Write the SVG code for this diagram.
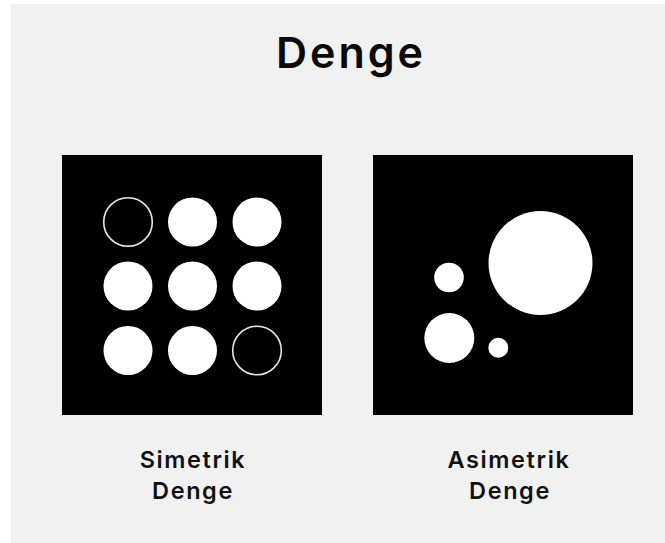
<svg xmlns="http://www.w3.org/2000/svg" width="665" height="543" viewBox="0 0 665 543">
<style>
.title{font-family:Inter,"Noto Sans",sans-serif;font-weight:600;font-size:43px;letter-spacing:3px;fill:#0a0a0a;text-anchor:middle}
.lbl{font-family:Inter,"Noto Sans",sans-serif;font-weight:600;font-size:23.5px;letter-spacing:1.6px;fill:#111;text-anchor:middle}
.panel{fill:#000}
.dot{fill:#fff}
.ring{fill:none;stroke:#e6e6e6;stroke-width:1.6}
</style>
<rect x="0" y="0" width="665" height="543" fill="#fff"/>
<rect x="11" y="4" width="654" height="539" fill="#f1f1f1"/>
<text class="title" x="351" y="68">Denge</text>
<g id="symmetric">
<rect class="panel" x="62" y="155" width="260" height="260"/>
<circle class="ring" cx="128" cy="222" r="24.3"/>
<circle class="dot" cx="192.5" cy="222" r="24.5"/>
<circle class="dot" cx="257" cy="222" r="24.5"/>
<circle class="dot" cx="128" cy="286" r="24.5"/>
<circle class="dot" cx="192.5" cy="286" r="24.5"/>
<circle class="dot" cx="257" cy="286" r="24.5"/>
<circle class="dot" cx="128" cy="350.5" r="24.5"/>
<circle class="dot" cx="192.5" cy="350.5" r="24.5"/>
<circle class="ring" cx="257" cy="350.5" r="24.3"/>
</g>
<g id="asymmetric">
<rect class="panel" x="373" y="155" width="260" height="260"/>
<circle class="dot" cx="540.5" cy="263" r="52"/>
<circle class="dot" cx="449" cy="277.5" r="14.8"/>
<circle class="dot" cx="449.3" cy="338" r="25"/>
<circle class="dot" cx="498.3" cy="347.7" r="10"/>
</g>
<g id="label-symmetric">
<text class="lbl" x="193" y="468">Simetrik</text>
<text class="lbl" x="193" y="498.5">Denge</text>
</g>
<g id="label-asymmetric">
<text class="lbl" x="509" y="468">Asimetrik</text>
<text class="lbl" x="510" y="498.5">Denge</text>
</g>
</svg>
